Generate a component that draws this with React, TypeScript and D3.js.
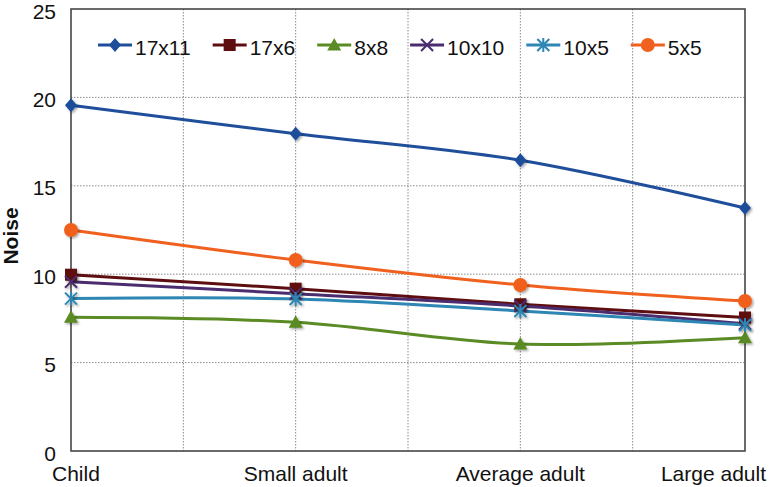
import React, { useEffect, useRef } from "react";
import * as d3 from "d3";

const categories = ["Child", "Small adult", "Average adult", "Large adult"];
const seriesNames = ["17x11", "17x6", "8x8", "10x10", "10x5", "5x5"];
const s17x11 = [19.55, 17.95, 16.45, 13.74];
const s17x6 = [9.97, 9.18, 8.3, 7.55];
const s8x8 = [7.56, 7.28, 6.05, 6.4];
const s10x10 = [9.57, 8.9, 8.2, 7.2];
const s10x5 = [8.62, 8.6, 7.92, 7.13];
const s5x5 = [12.5, 10.8, 9.39, 8.48];
const seriesValues = [s17x11, s17x6, s8x8, s10x10, s10x5, s5x5];
const seriesColors = ["#1f4e9b", "#5e0e10", "#5a8b24", "#4b2c6e", "#2d86b3", "#f0601e"];
const markerTypes = ["diamond", "square", "triangle", "x", "asterisk", "circle"];
const yTicks = [0, 5, 10, 15, 20, 25];

const W = 776;
const H = 487;
const FONT = "'Liberation Sans', Arial, Helvetica, sans-serif";

function drawMarker(g: any, type: string, color: string) {
  if (type === "diamond") {
    g.append("path").attr("d", "M0,-7 L6,0 L0,7 L-6,0 Z").attr("fill", color);
  } else if (type === "square") {
    g.append("rect").attr("x", -6).attr("y", -6).attr("width", 12).attr("height", 12).attr("fill", color);
  } else if (type === "triangle") {
    g.append("path").attr("d", "M0,-7 L7,5.5 L-7,5.5 Z").attr("fill", color);
  } else if (type === "circle") {
    g.append("circle").attr("r", 7).attr("fill", color);
  } else if (type === "x") {
    g.append("path").attr("d", "M-6,-6 L6,6 M-6,6 L6,-6").attr("stroke", color).attr("stroke-width", 2).attr("fill", "none");
  } else if (type === "asterisk") {
    g.append("path").attr("d", "M-6,-6 L6,6 M-6,6 L6,-6 M0,-7 L0,7").attr("stroke", color).attr("stroke-width", 2).attr("fill", "none");
  }
}

export default function App() {
  const ref = useRef<SVGSVGElement | null>(null);

  useEffect(() => {
    const svg = d3.select(ref.current);
    svg.selectAll("*").remove();

    const left = 71, right = 745, top = 9, bottom = 451;
    const x = d3.scalePoint<string>().domain(categories).range([left, right]);
    const xGrid = d3.scaleLinear().domain([0, 6]).range([left, right]);
    const y = d3.scaleLinear().domain([0, 25]).range([bottom, top]);

    const defs = svg.append("defs");
    const f = defs.append("filter").attr("id", "shadow").attr("x", "-50%").attr("y", "-50%").attr("width", "200%").attr("height", "200%");
    f.append("feDropShadow").attr("dx", 1.5).attr("dy", 1.5).attr("stdDeviation", 1.2).attr("flood-color", "#000").attr("flood-opacity", 0.35);

    svg.append("rect").attr("width", W).attr("height", H).attr("fill", "#fff");

    // grid
    const grid = svg.append("g");
    yTicks.filter((t) => t > 0 && t < 25).forEach((t) => {
      grid.append("line").attr("x1", left).attr("x2", right).attr("y1", y(t)).attr("y2", y(t))
        .attr("stroke", "#8a8a8a").attr("stroke-width", 1).attr("stroke-dasharray", "1.5,1.5");
    });
    d3.range(1, 6).forEach((i) => {
      grid.append("line").attr("x1", xGrid(i)).attr("x2", xGrid(i)).attr("y1", top).attr("y2", bottom)
        .attr("stroke", "#8a8a8a").attr("stroke-width", 1).attr("stroke-dasharray", "1.5,1.5");
    });

    // frame
    svg.append("rect").attr("x", left).attr("y", top).attr("width", right - left).attr("height", bottom - top)
      .attr("fill", "none").attr("stroke", "#3a3a3a").attr("stroke-width", 1.5);

    // y ticks
    yTicks.forEach((t) => {
      svg.append("text").attr("x", 56).attr("y", y(t) + 2).attr("dy", "0.36em").attr("text-anchor", "end")
        .attr("font-family", FONT).attr("font-size", 21).attr("fill", "#111").text(String(t));
    });

    // x labels
    categories.forEach((c, i) => {
      const anchor = i === 0 ? "start" : i === categories.length - 1 ? "end" : "middle";
      const px = i === 0 ? Math.max(52, x(c)! - 19) : i === categories.length - 1 ? Math.min(766, x(c)! + 21) : x(c)!;
      svg.append("text").attr("x", px).attr("y", 481).attr("text-anchor", anchor)
        .attr("font-family", FONT).attr("font-size", 21).attr("fill", "#111").text(c);
    });

    // y title
    svg.append("text").attr("transform", `translate(18,${(top + bottom) / 2 + 6}) rotate(-90)`)
      .attr("text-anchor", "middle").attr("font-family", FONT).attr("font-size", 21).attr("font-weight", "bold")
      .attr("fill", "#111").text("Noise");

    // lines
    const line = d3.line<number>().x((_, i) => x(categories[i])!).y((v) => y(v)).curve(d3.curveCatmullRom.alpha(0.5));
    seriesValues.forEach((vals, si) => {
      svg.append("path").attr("d", line(vals)!).attr("fill", "none").attr("stroke", seriesColors[si]).attr("stroke-width", 3);
    });
    seriesValues.forEach((vals, si) => {
      vals.forEach((v, i) => {
        const g = svg.append("g").attr("transform", `translate(${x(categories[i])},${y(v)})`).attr("filter", "url(#shadow)");
        drawMarker(g, markerTypes[si], seriesColors[si]);
      });
    });

    // legend
    const lg = svg.append("g");
    let lx = 98;
    const ly = 45;
    seriesNames.forEach((name, si) => {
      lg.append("line").attr("x1", lx).attr("x2", lx + 34).attr("y1", ly).attr("y2", ly)
        .attr("stroke", seriesColors[si]).attr("stroke-width", 3);
      const mg = lg.append("g").attr("transform", `translate(${lx + 17},${ly})`);
      drawMarker(mg, markerTypes[si], seriesColors[si]);
      const t = lg.append("text").attr("x", lx + 37).attr("y", ly + 2).attr("dy", "0.36em")
        .attr("font-family", FONT).attr("font-size", 21).attr("fill", "#111").text(name);
      const w = (t.node() as SVGTextElement).getComputedTextLength();
      lx = lx + 37 + w + 22;
    });
  }, []);

  return (
    <svg ref={ref} width={W} height={H} style={{ position: "absolute", left: 0, top: 0, display: "block" }} />
  );
}
